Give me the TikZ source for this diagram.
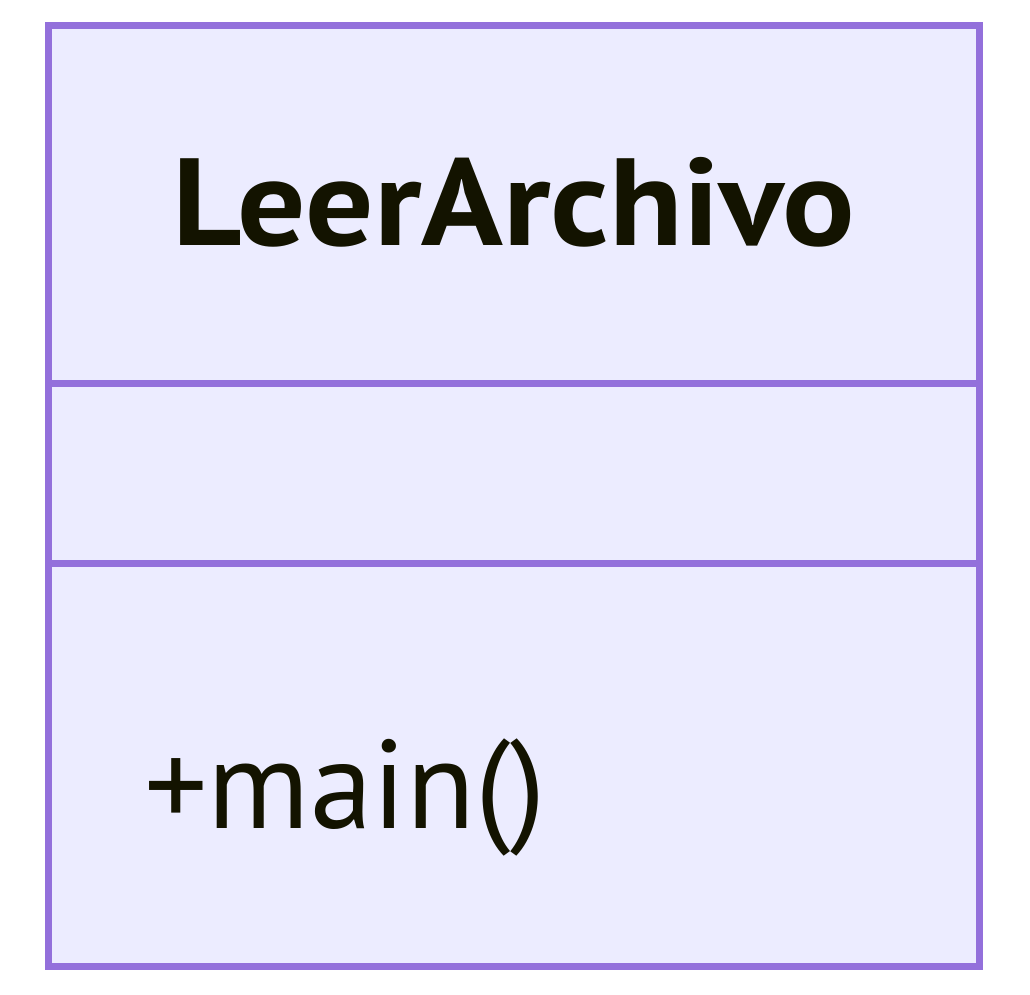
\documentclass[tikz,border=0pt]{standalone}
\usepackage{fontspec}
\setmainfont{PT Sans}
\definecolor{umlborder}{HTML}{9370DB}
\definecolor{umlfill}{HTML}{ECECFF}
\definecolor{umltext}{HTML}{131300}
\begin{document}
\begin{tikzpicture}[x=1pt,y=-1pt,
  classbox/.style={draw=umlborder,fill=umlfill,line width=7pt},
  divider/.style={draw=umlborder,line width=7pt},
  titletext/.style={text=umltext,font=\fontsize{124}{136}\selectfont\bfseries,anchor=base,inner sep=0pt},
  membertext/.style={text=umltext,font=\fontsize{126}{138}\selectfont,anchor=base west,inner sep=0pt}]
\useasboundingbox (0,0) rectangle (1030,994);
\draw[classbox] (48.5,25.5) rectangle (979,966);
\coordinate (d1l) at (48.5,383.5);
\coordinate (d1r) at (979,383.5);
\coordinate (d2l) at (48.5,563.5);
\coordinate (d2r) at (979,563.5);
\draw[divider] (d1l) -- (d1r);
\draw[divider] (d2l) -- (d2r);
\node[titletext] (title) at (514,245) {\scalebox{1.09}[1]{LeerArchivo}};
\node[membertext] (method) at (144,828) {+main()};
\end{tikzpicture}
\end{document}
